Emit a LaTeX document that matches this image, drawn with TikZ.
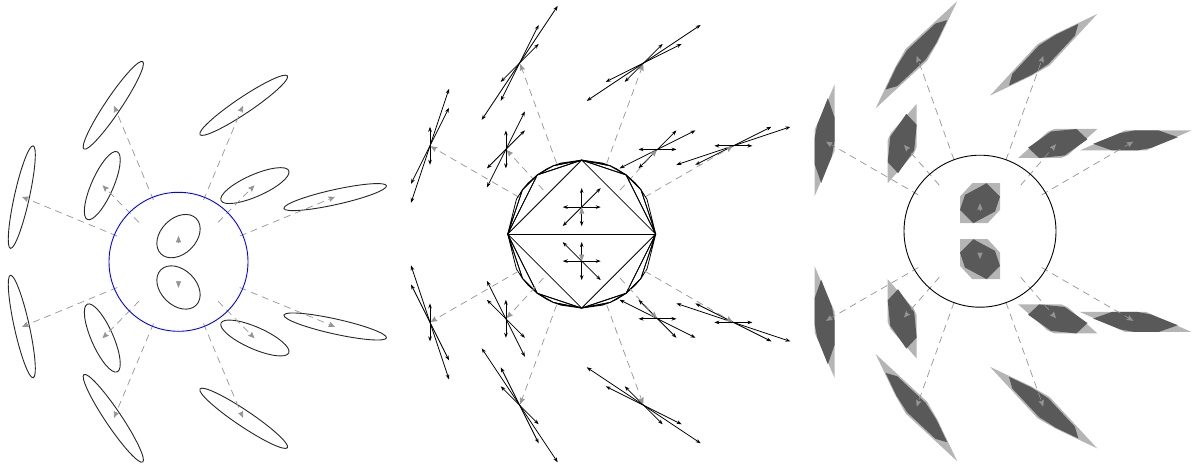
\documentclass[tikz,border=0pt]{standalone}
\usetikzlibrary{arrows.meta}
\definecolor{lightshade}{gray}{0.71}
\definecolor{darkshade}{gray}{0.35}
\definecolor{fieldgray}{gray}{0.58}
\tikzset{
  fieldline/.style={draw=fieldgray,line width=.7pt,dash pattern=on 7pt off 5pt,-{Stealth[length=6.5pt,width=5.5pt,inset=1pt,fill=fieldgray]}},
  fieldshort/.style={draw=fieldgray,line width=.7pt,-{Stealth[length=6.5pt,width=5pt,inset=0pt,fill=fieldgray]}},
  ell/.style={draw=black!85,line width=.9pt},
  dbl/.style={draw=black,line width=.8pt,{Stealth[length=5pt,width=3.6pt]}-{Stealth[length=5pt,width=3.6pt]}},
  farey/.style={draw=black,line width=.8pt,line join=round},
  lightpoly/.style={fill=lightshade,draw=none},
  darkpoly/.style={fill=darkshade,draw=none},
}
\newcommand\bothHalves[1]{#1\begin{scope}[yscale=-1]#1\end{scope}}
\newcommand\ellItem[5]{\draw[ell] (#1,#2) circle[x radius=#3,y radius=#4,rotate=#5];}
\newcommand\trio[6]{\begin{scope}[shift={(#1,#2)}]
  \draw[dbl] ({-19*#3},{19*#5}) -- ({19*#3},{-19*#5});
  \draw[dbl] ({-19*#4},{19*#6}) -- ({19*#4},{-19*#6});
  \draw[dbl] ({-19*(#3+#4)},{19*(#5+#6)}) -- ({19*(#3+#4)},{-19*(#5+#6)});
\end{scope}}
\newcommand\panelOneUpper{%
  \ellItem{0}{-25.7}{25}{17.7}{45}
  \ellItem{-156.7}{-64.7}{52.5}{7.5}{77.5}
  \ellItem{-76.2}{-76.2}{37}{10.9}{66.2}
  \ellItem{-65.2}{-156.5}{52.7}{8}{56.1}
  \ellItem{65.2}{-156.5}{52.7}{8}{33.9}
  \ellItem{76.4}{-76.2}{37}{10.9}{23.8}
  \ellItem{156.7}{-64.7}{52.5}{7.5}{12.5}
  \draw[fieldshort] (0,-19.5) -- (0,-26);
  \draw[fieldline] (-61.2,-25.7) -- (-156.5,-65);
  \draw[fieldline] (-39.5,-39.4) -- (-76,-76.5);
  \draw[fieldline] (-25,-61.7) -- (-64.5,-156);
  \draw[fieldline] (25,-61.7) -- (64.5,-156);
  \draw[fieldline] (39.5,-39.4) -- (76,-76.5);
  \draw[fieldline] (61.2,-25.7) -- (156.5,-65);
}
\newcommand\panelTwoUpper{%
  \begin{scope}[x=74pt,y=-74pt]
  \foreach \sx in {1,-1}{%
    \begin{scope}[xscale=\sx]
    \draw[farey] (1,0) -- (0,1) -- (.6,.8) -- cycle;
    \draw[farey] (1,0) -- (.6,.8) -- (.8,.6) -- cycle;
    \draw[farey] (.6,.8) -- (0,1) -- (.3846,.9231) -- cycle;
    \draw[farey] (1,0) -- (.8,.6) -- (.8824,.4706) -- cycle;
    \draw[farey] (.8,.6) -- (.6,.8) -- (.7241,.6897) -- cycle;
    \draw[farey] (.6,.8) -- (.3846,.9231) -- (.4706,.8824) -- cycle;
    \draw[farey] (.3846,.9231) -- (0,1) -- (.28,.96) -- cycle;
    \end{scope}}
  \draw[farey] (-1,0) -- (1,0);
  \end{scope}
  \trio{0}{-27}{1}{0}{0}{1}
  \trio{-151.7}{-88.3}{1}{0}{2}{1}
  \trio{-75.8}{-84.7}{1}{0}{1}{1}
  \trio{-62}{-171.2}{1}{1}{1}{2}
  \trio{62}{-171.2}{2}{1}{1}{1}
  \trio{75.8}{-84.7}{1}{1}{0}{1}
  \trio{151.7}{-88.3}{1}{2}{0}{1}
  \draw[fieldshort] (0,-20.5) -- (0,-27);
  \draw[fieldline] (-63,-37) -- (-151,-87.8);
  \draw[fieldline] (-38.3,-44) -- (-75,-84);
  \draw[fieldline] (-25,-70.7) -- (-61.5,-170);
  \draw[fieldline] (25,-70.7) -- (61.5,-170);
  \draw[fieldline] (38.3,-44) -- (75,-84);
  \draw[fieldline] (63,-37) -- (151,-87.8);
}
\newcommand\shapeCentre{%
  \fill[lightpoly] (60,-60) -- (60,20) -- (23,60) -- (-60,60) -- (-60,-20) -- (-23,-60) -- cycle;
  \fill[darkpoly] (20,-60) -- (60,-20) -- (45,25) -- (-20,60) -- (-60,20) -- (-45,-25) -- cycle;
}
\newcommand\shapeOuter{%
  \fill[lightpoly] (30,-167.5) -- (30,32) -- (17,60) -- (-30,167.5) -- (-30,-32) -- (-17,-60) -- cycle;
  \fill[darkpoly] (10,-127) -- (30,-70) -- (30,5) -- (22,47) -- (-10,127) -- (-30,70) -- (-30,-5) -- (-22,-47) -- cycle;
}
\newcommand\shapeInner{%
  \fill[lightpoly] (43.5,-119) -- (43.5,10) -- (35,30) -- (-43.5,119) -- (-43.5,-10) -- (-35,-30) -- cycle;
  \fill[darkpoly] (12.5,-89) -- (43.5,-56) -- (36,20) -- (-12.5,89) -- (-43.5,56) -- (-36,-20) -- cycle;
}
\newcommand\shapeTop{%
  \fill[lightpoly] (122.5,-161) -- (64,-38) -- (32,18) -- (-122.5,161) -- (-64,38) -- (-32,-18) -- cycle;
  \fill[darkpoly] (92.5,-104) -- (60,-36) -- (28,14) -- (-57.5,94) -- (-92.5,104) -- (-60,36) -- (-28,-14) -- (57.5,-94) -- cycle;
}
\newcommand\leftShape[3]{\begin{scope}[shift={(#1,#2)},x=.33333pt,y=-.33333pt]#3\end{scope}}
\newcommand\rightShape[3]{\begin{scope}[shift={(#1,#2)},cm={0,1,1,0,(0,0)},x=.33333pt,y=-.33333pt]#3\end{scope}}
\newcommand\panelThreeUpper{%
  \leftShape{0}{-28}{\shapeCentre}
  \leftShape{-155.5}{-90.7}{\shapeOuter}
  \leftShape{-77.8}{-87.7}{\shapeInner}
  \leftShape{-63.6}{-176.4}{\shapeTop}
  \rightShape{63.6}{-176.4}{\shapeTop}
  \rightShape{77.8}{-87.7}{\shapeInner}
  \rightShape{155.5}{-90.7}{\shapeOuter}
  \draw[fieldshort] (0,-21.5) -- (0,-28);
  \draw[fieldline] (-61.7,-36.3) -- (-154,-89.6);
  \draw[fieldline] (-40.7,-46) -- (-76,-86.3);
  \draw[fieldline] (-26,-71.3) -- (-63.3,-175.3);
  \draw[fieldline] (26,-71.3) -- (63.3,-175.3);
  \draw[fieldline] (40.7,-46) -- (76,-87);
  \draw[fieldline] (61.7,-36.3) -- (153.3,-89.6);
}
\begin{document}
\begin{tikzpicture}[x=1pt,y=-1pt]
  \useasboundingbox (0,0) rectangle (1192,465);
  \begin{scope}[shift={(178.5,261.8)}]
    \bothHalves{\panelOneUpper}
    \draw[blue,line width=.9pt] (0,0) circle[radius=69.5];
  \end{scope}
  \begin{scope}[shift={(581.7,234.1)}]
    \bothHalves{\panelTwoUpper}
  \end{scope}
  \begin{scope}[shift={(980,231.2)}]
    \bothHalves{\panelThreeUpper}
    \draw[black,line width=.9pt] (0,0) circle[radius=76];
  \end{scope}
\end{tikzpicture}
\end{document}
